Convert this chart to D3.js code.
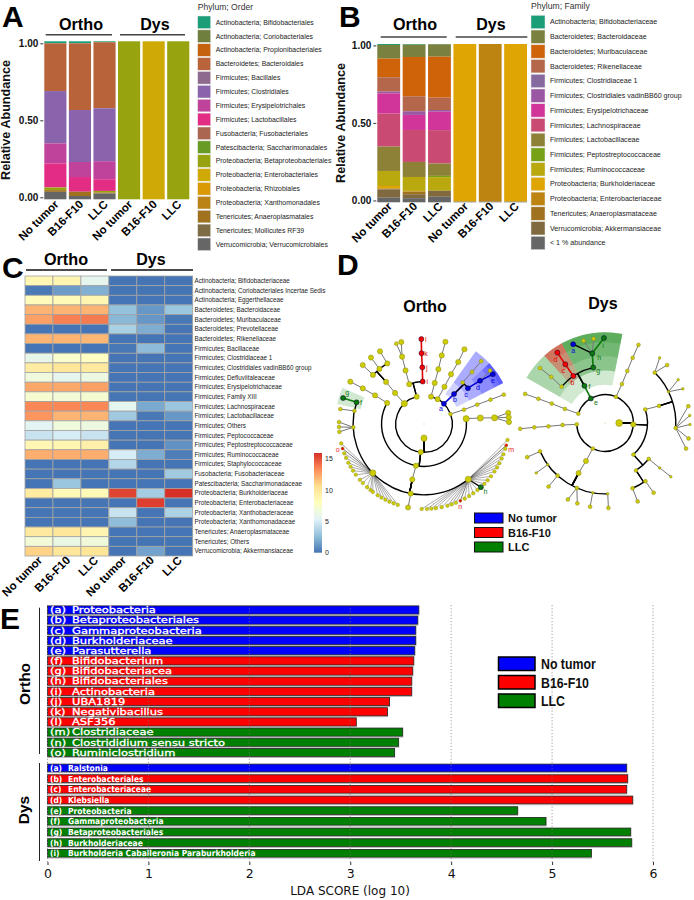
<!DOCTYPE html>
<html><head><meta charset="utf-8">
<script src="https://cdn.jsdelivr.net/npm/d3@7"></script>
<style>html,body{margin:0;padding:0;background:#fff}svg{display:block}text{font-family:"Liberation Sans",Arial,sans-serif}</style>
</head><body><div id="c"></div>
<script>
// ---------- Panel A data ----------
const groupsLabels = ["No tumor","B16-F10","LLC","No tumor","B16-F10","LLC"];
const orderNames = ["Actinobacteria; Bifidobacteriales","Actinobacteria; Coriobacteriales","Actinobacteria; Propionibacteriales","Bacteroidetes; Bacteroidales","Firmicutes; Bacillales","Firmicutes; Clostridiales","Firmicutes; Erysipelotrichales","Firmicutes; Lactobacillales","Fusobacteria; Fusobacteriales","Patescibacteria; Saccharimonadales","Proteobacteria; Betaproteobacteriales","Proteobacteria; Enterobacteriales","Proteobacteria; Rhizobiales","Proteobacteria; Xanthomonadales","Tenericutes; Anaeroplasmatales","Tenericutes; Mollicutes RF39","Verrucomicrobia; Verrucomicrobiales"];
const orderColors = ["#1b9e77","#6f7f3e","#c5620f","#b9633b","#8e6a8f","#8a63ad","#bf429b","#e32d85","#ab6652","#679b24","#97a40f","#cfaa07","#d99a06","#bb8215","#a0721f","#7e6c44","#666666"];
const orderOrthoNoTumor = [.013,0,0,.302,0,.331,.127,.152,0,0,.017,0,0,0,.011,0,.047];
const orderOrthoB16 =     [.013,0,0,.422,0,.329,.095,.093,0,0,0,0,0,0,.027,0,.021];
const orderOrthoLLC =     [.006,0,0,.418,0,.335,.114,.074,0,0,.011,0,0,0,.006,0,.036];
const orderDysNoTumor =   [0,0,0,0,0,0,0,0,0,0,1,0,0,0,0,0,0];
const orderDysB16 =       [0,0,0,0,0,0,0,0,0,0,0,1,0,0,0,0,0];
const orderDysLLC =       [0,0,0,0,0,0,0,0,0,0,1,0,0,0,0,0,0];
// ---------- Panel B data ----------
const familyNames = ["Actinobacteria; Bifidobacteriaceae","Bacteroidetes; Bacteroidaceae","Bacteroidetes; Muribaculaceae","Bacteroidetes; Rikenellaceae","Firmicutes; Clostridiaceae 1","Firmicutes; Clostridiales vadinBB60 group","Firmicutes; Erysipelotrichaceae","Firmicutes; Lachnospiraceae","Firmicutes; Lactobacillaceae","Firmicutes; Peptostreptococcaceae","Firmicutes; Ruminococcaceae","Proteobacteria; Burkholderiaceae","Proteobacteria; Enterobacteriaceae","Tenericutes; Anaeroplasmataceae","Verrucomicrobia; Akkermansiaceae","< 1 % abundance"];
const familyColors = ["#1b9e77","#7a803d","#cf630a","#b4674b","#86699f","#9b58a2","#d2359a","#c94a72","#8d8138","#77a116","#b9a90e","#dfa603","#bd8412","#a0711f","#80693e","#666666"];
const familyOrthoNoTumor = [.006,.086,.118,.091,0,.011,.128,.208,.154,0,.095,.015,.006,0,.053,.029];
const familyOrthoB16 =     [.004,.078,.248,.095,0,.023,.095,.202,.095,0,.088,.004,0,.017,.025,.026];
const familyOrthoLLC =     [.002,.078,.259,.078,0,.011,.116,.211,.078,.008,.086,0,0,0,.038,.035];
const familyDysNoTumor =   [0,0,0,0,0,0,0,0,0,0,0,.996,0,0,0,.004];
const familyDysB16 =       [0,0,0,0,0,0,0,0,0,0,0,0,.996,0,0,.004];
const familyDysLLC =       [0,0,0,0,0,0,0,0,0,0,0,.996,0,0,0,.004];
const abundanceTicks = [0,.5,1];
// ---------- Panel C data ----------
const heatRows = ["Actinobacteria; Bifidobacteriaceae","Actinobacteria; Coriobacteriales Incertae Sedis","Actinobacteria; Eggerthellaceae","Bacteroidetes; Bacteroidaceae","Bacteroidetes; Muribaculaceae","Bacteroidetes; Prevotellaceae","Bacteroidetes; Rikenellaceae","Firmicutes; Bacillaceae","Firmicutes; Clostridiaceae 1","Firmicutes; Clostridiales vadinBB60 group","Firmicutes; Defluviitaleaceae","Firmicutes; Erysipelotrichaceae","Firmicutes; Family XIII","Firmicutes; Lachnospiraceae","Firmicutes; Lactobacillaceae","Firmicutes; Others","Firmicutes; Peptococcaceae","Firmicutes; Peptostreptococcaceae","Firmicutes; Ruminococcaceae","Firmicutes; Staphylococcaceae","Fusobacteria; Fusobacteriaceae","Patescibacteria; Saccharimonadaceae","Proteobacteria; Burkholderiaceae","Proteobacteria; Enterobacteriaceae","Proteobacteria; Xanthobacteraceae","Proteobacteria; Xanthomonadaceae","Tenericutes; Anaeroplasmataceae","Tenericutes; Others","Verrucomicrobia; Akkermansiaceae"];
const heatOrthoNoTumor = [8.6,.2,8.2,12,12.6,0,12,0,6,9.6,6.6,12.4,7.2,13.4,13,5.6,4.5,8.6,12.2,0,0,0,9.6,0,0,0,9.8,6.8,11];
const heatOrthoB16 =     [8.8,1.4,8.4,12,13.6,0,12,0,7.4,10,5.8,12.4,6.8,13.4,12,6.6,5,8.7,12.2,0,0,3,8.4,0,0,0,10,6.2,10];
const heatOrthoLLC =     [5.8,2.1,8.7,12,13.8,0,11.9,0,7.9,9.8,6.4,12.6,7.1,13.4,12,6.4,4.5,9.2,12.2,0,0,0,8.4,0,0,0,8.8,6.7,10.1];
const heatDysNoTumor =   [0,0,0,2.8,2.4,3.5,0,.1,0,0,0,0,0,5.7,3.2,0,0,0,5,3.8,0,0,15.3,0,4.5,2.6,0,0,0];
const heatDysB16 =       [0,0,0,1.2,1.2,2,0,2.5,0,0,0,0,0,1.9,.1,0,0,0,2,0,0,0,3.3,15.5,0,0,0,0,1.6];
const heatDysLLC =       [0,0,0,3,.1,0,0,0,0,0,0,0,0,3,1.2,0,0,1,.3,0,3.2,0,15.9,0,3.6,0,0,0,0];
const heatStops = ["#4575B4","#91BFDB","#E0F3F8","#FFFFBF","#FEE090","#FC8D59","#D73027"];
const heatLegendTicks = [0,5,10,15];
// ---------- Panel D data: [id, parent, level, angle (deg clockwise from north), kind, letter] ----------
const orthoNodes = [
["r1",null,1,180,"l"],["p1","r1",2,186.6,"m"],["c1","p1",3,190.9,"m"],["o1","c1",4,191.9,"m"],["f1","o1",5,190.8,"m"],["g1","f1",6,190.8,"m"],
["a","r1",2,44.5,"b","a"],["b","a",3,45,"b","b"],["c","b",4,50.8,"b","c"],["d","c",5,52.3,"b","d"],["e","d",6,54.1,"b","e"],["d2","d",6,51,"s"],
["c2","b",4,43,"s"],["c3","c2",5,42.7,"s"],["c4","c3",6,42.3,"s"],
["u1","r1",2,28.7,"m"],["u2","u1",3,28.8,"m"],["u3","u2",4,28.5,"m"],["u4","u3",5,28.9,"m"],["u5","u4",6,28.4,"m"],
["v1","r1",2,14.4,"m"],["v2","v1",3,14.6,"m"],["v3","v2",4,14.7,"m"],["v4","v3",5,14.5,"m"],["v5","v4",6,14.6,"m"],
["w1","r1",2,345,"m"],["i","w1",3,358.2,"r","i"],["j","i",4,358.3,"r","j"],["k","j",5,358,"r","k"],["l","k",6,358.2,"r","l"],
["w2","w1",3,339.7,"m"],["w3","w2",4,341,"m"],["w4","w3",5,342,"m"],["w5","w4",6,341,"s"],["w6","w4",6,344.5,"m"],
["x1","r1",2,316,"l"],["x2","x1",3,317,"m"],["x3","x2",4,318,"m"],["x4","x3",5,313.9,"m"],["x5","x3",5,321,"m"],["x6","x3",5,328.8,"m"],["x7","x4",6,313.9,"m"],["x8","x5",6,321.4,"m"],["x9","x6",6,328.8,"m"],
["y1","p1",3,299.8,"m"],["y2","y1",4,300.3,"m"],["y3","y2",5,300.2,"m"],["y4","y3",6,299.9,"m"],
["z1","o1",5,280.7,"s"],["z2","z1",6,280.1,"s"],
["f","o1",5,287.8,"g","f"],["g","f",6,287.8,"g","g"],
["q1","o1",5,267.3,"s"],["q2","q1",6,271.3,"s"],["q3","q1",6,268,"s"],["q4","q1",6,264.7,"s"],
["t1","p1",3,82.8,"l"],["t2","t1",4,83.9,"l"],["t3","t2",5,85,"l"],["t4","t3",6,82.4,"m"],["t5","t3",6,85.5,"m"],["t6","t3",6,88.7,"m"],
["s1","r1",2,69.4,"s"],["s2","s1",3,70.3,"s"],["s3","s2",4,70,"s"],["s4","s3",5,69.9,"s"],["s5","s4",6,69.8,"s"],
["hubL","o1",5,226.3,"l"],["hubR","o1",5,141.3,"l"]
];
const orthoFanLeft = [256.8,249.8,246.5,242.9,239.8,236.7,233.4,229,226,222,219,217,213,210,207,204,201,198];
const orthoFanRight = [181.6,178,175,172,168,164,161,158,151.4,148,144.6,141,134.8,131.5,128,124,120.7,117.5,114,110.9,107,100.8];
const orthoMarked = [["o","hubL",253.3,"rs","o"],["n","hubR",154.7,"rs","n"],["h","hubR",138,"g","h"],["m","hubR",104.5,"rs","m"]];
const orthoRings = [[2,14.4,345],[3,82.8,299.8],[3,339.7,358.2],[4,43,50.8],[5,141.3,287.8],[5,313.9,328.8]];
const orthoSectors = [[2.6,6.3,35.5,62.6,"#0000ff"],[3.6,6.3,35.5,62.6,"#0000ff"],[4.6,6.3,47,62.6,"#0000ff"],[5.6,6.3,47,62.6,"#0000ff"],[6,6.3,47,62.6,"#0000ff"],[4.6,6.3,283,294,"#008000"]];
const dysNodes = [
["r1",null,1,90,"xl"],["p1","r1",2,92.8,"m"],
["e","r1",2,330,"g","e"],["f","e",3,331,"g","f"],["g","f",4,348,"g","g"],["h","g",5,349.6,"g","h"],["i","h",6,359.3,"g","i"],["a","h",6,338,"b","a"],["h2","h",6,345.4,"s"],["h3","h",6,352.3,"s"],
["b","f",4,326,"r","b"],["c","b",5,325.9,"r","c"],["d","c",6,325.9,"r","d"],["m1","f",4,310,"s"],["m2","m1",5,310.6,"s"],["m3","m2",6,310.2,"s"],
["u1","r1",2,22.7,"s"],["u2","u1",3,23.5,"s"],["u3","u2",4,23.2,"s"],["u4","u3",5,23,"s"],["u5","u4",6,23.2,"s"],
["v1","r1",2,289.3,"s"],["v2","v1",3,289.4,"s"],["v3","v2",4,290,"s"],["v4","v3",5,290,"s"],["v5","v4",6,290,"s"],
["w1","r1",2,267.3,"s"],["w2","w1",3,267.3,"s"],["w3","w2",4,266.6,"s"],["w4","w3",5,266.5,"s"],["w5","w4",6,266.1,"s"],
["b1","r1",2,205.6,"s"],["b2","b1",3,206.6,"m"],["b3","b2",4,207.8,"m"],["b4","b3",5,203.4,"s"],["b5","b3",5,246.4,"s"],["b6","b3",5,234,"xs"],["b7","b3",5,222,"s"],["b8","b3",5,190,"xs"],["b9","b3",5,177.8,"xs"],
["b10","b5",6,246.3,"s"],["b11","b6",6,234,"xs"],["b12","b7",6,221.6,"s"],["b13","b4",6,205.9,"s"],["b14","b4",6,199,"s"],["b15","b8",6,190.1,"s"],["b16","b9",6,177.7,"s"],
["t1","p1",3,71.4,"s"],["t2","t1",4,72.5,"s"],["t3","t2",5,44.6,"s"],["t4","t2",5,63.8,"xs"],["t5","t2",5,94,"s"],
["t6","t3",6,40,"xs"],["t7","t3",6,47,"s"],["t8","t4",6,59.4,"xs"],["t9","t4",6,66.3,"xs"],
["l1","t5",6,78.6,"s"],["l2","t5",6,85,"xs"],["l3","t5",6,91,"xs"],["l4","t5",6,100.5,"s"],["l5","t5",6,107.5,"s"],
["n1","p1",3,138,"s"],["n2","n1",4,146.8,"s"],["n3","n1",4,129.4,"s"],["n4","n3",5,129.4,"xs"],["n5","n4",6,129.2,"xs"],["n6","n2",5,145.2,"s"],["n7","n2",5,157.1,"s"],["n8","n6",6,145.1,"s"],["n9","n7",6,157.4,"s"]
];
const dysRings = [[2,289.3,627.3],[3,71.4,138],[4,310,348],[4,129.4,146.8],[5,145.2,157.1],[5,44.6,94],[5,177.8,246.4]];
const dysSectors = [[2.7,6.4,300,371,"#008000"],[3.7,6.4,300,371,"#008000"],[3.7,6.4,318,331.5,"#ff0000"],[4.7,6.4,318,331.5,"#ff0000"],[5.7,6.4,318,331.5,"#ff0000"],[3.7,6.4,331.5,371,"#008000"],[4.7,6.4,331.5,371,"#008000"],[5.7,6.4,331.5,371,"#008000"]];
const tumorNames = ["No tumor","B16-F10","LLC"];
const tumorColors = ["#0000ff","#ff0000","#008000"];
// ---------- Panel E data ----------
const ldaOrthoPrefix = ["(a)","(b)","(c)","(d)","(e)","(f)","(g)","(h)","(i)","(j)","(k)","(l)","(m)","(n)","(o)"];
const ldaOrthoNames = ["Proteobacteria","Betaproteobacteriales","Gammaproteobacteria","Burkholderiaceae","Parasutterella","Bifidobacterium","Bifidobacteriacea","Bifidobacteriales","Actinobacteria","UBA1819","Negativibacillus","ASF356","Clostridiaceae","Clostrididium sensu stricto","Ruminiclostridium"];
const ldaOrthoScores = [3.68,3.67,3.65,3.65,3.64,3.63,3.62,3.61,3.61,3.39,3.37,3.06,3.52,3.48,3.44];
const ldaOrthoGroup = [0,0,0,0,0,1,1,1,1,1,1,1,2,2,2];
const ldaDysPrefix = ["(a)","(b)","(c)","(d)","(e)","(f)","(g)","(h)","(i)"];
const ldaDysNames = ["Ralstonia","Enterobacteriales","Enterobacteriaceae","Klebsiella","Proteobacteria","Gammaproteobacteria","Betaproteobacteriales","Burkholderiaceae","Burkholderia Caballeronia Paraburkholderia"];
const ldaDysScores = [5.74,5.75,5.74,5.80,4.66,4.94,5.78,5.79,5.39];
const ldaDysGroup = [0,1,1,1,2,2,2,2,2];
const ldaTicks = [0,1,2,3,4,5,6];

const svg = d3.select("#c").append("svg").attr("width",694).attr("height",900).attr("viewBox","0 0 694 900");
const bold = "bold";
function txt(g,x,y,s,size,opt={}){
  const t=g.append("text").attr("x",x).attr("y",y).text(s).attr("font-size",size)
    .attr("font-weight",opt.w||"normal").attr("fill",opt.c||"#000").attr("text-anchor",opt.a||"start");
  if(opt.f) t.style("font-family",opt.f);
  if(opt.t) t.attr("transform",opt.t);
  return t;
}
// panel letters
[["A",2,27],["B",339,27],["C",2,278],["D",337,275],["E",0,629]].forEach(d=>txt(svg,d[1],d[2],d[0],30,{w:bold}));

function heading(g,o,y,line){ // line: [y,x0,x1,x2,x3], o: [xOrtho,xDys]
  txt(g,o[0],y,"Ortho",16.2,{w:bold,a:"middle"});
  txt(g,o[1],y,"Dys",16,{w:bold,a:"middle"});
  g.append("line").attr("x1",line[1]).attr("x2",line[2]).attr("y1",line[0]).attr("y2",line[0]).attr("stroke",line[5]||"#444").attr("stroke-width",1.4);
  g.append("line").attr("x1",line[3]).attr("x2",line[4]).attr("y1",line[0]).attr("y2",line[0]).attr("stroke",line[5]||"#444").attr("stroke-width",1.4);
}
function stackedPanel(cfg){
  const g=svg.append("g");
  const rows=cfg.columns.map(col=>Object.fromEntries(cfg.names.map((n,i)=>[n,col[i]])));
  const series=d3.stack().keys(cfg.names).order(d3.stackOrderReverse)(rows);
  const y=d3.scaleLinear().domain([cfg.base,cfg.top]).range(cfg.yr);
  const x=d3.scaleBand().domain(d3.range(6)).range(cfg.xr).paddingInner(.1).paddingOuter(.0);
  const off=v=>y(cfg.base+v*(cfg.top-cfg.base));
  series.forEach(s=>{
    g.selectAll(null).data(s).join("rect").attr("x",(d,j)=>x(j)).attr("width",x.bandwidth())
      .attr("y",d=>off(d[1])).attr("height",d=>off(d[0])-off(d[1])).attr("fill",cfg.colors[cfg.names.indexOf(s.key)]);
  });
  // axis
  const ax=g.append("g").attr("transform",`translate(${cfg.xr[0]-1},0)`).call(d3.axisLeft(y).tickValues(abundanceTicks).tickFormat(d3.format(".2f")).tickSize(3).tickPadding(2));
  ax.select(".domain").remove();
  ax.selectAll("text").attr("font-size",10).attr("font-weight",bold).attr("fill","#111").style("font-family",'"Liberation Sans"');
  ax.selectAll("line").attr("stroke","#333");
  txt(g,0,0,"Relative Abundance",12.6,{w:bold,a:"middle",c:"#111",t:`translate(${cfg.ylab[0]},${cfg.ylab[1]}) rotate(-90)`});
  groupsLabels.forEach((t,i)=>txt(g,0,0,t,11.5,{w:bold,a:"end",t:`translate(${x(i)+x.bandwidth()/2+cfg.rot[0]},${cfg.rot[1]}) rotate(-45)`}));
  heading(g,cfg.head,cfg.headY,cfg.line);
  // legend
  txt(g,cfg.leg.x,cfg.leg.ty,cfg.leg.title,8.6,{c:"#333"});
  const ly=d3.scaleLinear().domain([0,cfg.names.length-1]).range(cfg.leg.yr);
  cfg.names.forEach((n,i)=>{
    g.append("rect").attr("x",cfg.leg.x).attr("y",ly(i)-cfg.leg.h/2).attr("width",cfg.leg.w).attr("height",cfg.leg.h).attr("fill",cfg.colors[i]).attr("stroke","#e8e8e8").attr("stroke-width",.5);
    txt(g,cfg.leg.tx,ly(i)+2.4,n,cfg.leg.fs,{c:"#222"});
  });
}
stackedPanel({names:orderNames,colors:orderColors,columns:[orderOrthoNoTumor,orderOrthoB16,orderOrthoLLC,orderDysNoTumor,orderDysB16,orderDysLLC],
  base:-.013,top:1.013,yr:[199.3,41.3],xr:[44.3,189.3],ylab:[9.5,120],rot:[4,205],head:[81,155],headY:30,line:[34.7,45.7,112,120,185],
  leg:{title:"Phylum; Order",x:197.7,ty:10,tx:215.7,fs:6.9,yr:[22.3,244.3],w:13,h:12.6}});
stackedPanel({names:familyNames,colors:familyColors,columns:[familyOrthoNoTumor,familyOrthoB16,familyOrthoLLC,familyDysNoTumor,familyDysB16,familyDysLLC],
  base:-.012,top:1.009,yr:[202.3,44],xr:[377.3,527],ylab:[345,123],rot:[4,207],head:[415,491],headY:29.5,line:[37,380.7,446.7,455.7,527.3],
  leg:{title:"Phylum; Family",x:531,ty:8.5,tx:550,fs:7.1,yr:[22,243],w:14,h:13.4}});

// ---------- Panel C ----------
(function(){
  const g=svg.append("g");
  const cols=[heatOrthoNoTumor,heatOrthoB16,heatOrthoLLC,heatDysNoTumor,heatDysB16,heatDysLLC];
  const x=d3.scaleBand().domain(d3.range(6)).range([25,192.7]);
  const y=d3.scaleBand().domain(heatRows).range([276,556]);
  const maxV=15.9;
  const color=d3.scaleLinear().domain(heatStops.map((c,i)=>i*maxV/(heatStops.length-1))).range(heatStops);
  cols.forEach((col,j)=>g.selectAll(null).data(col).join("rect").attr("x",x(j)).attr("y",(d,i)=>y(heatRows[i])).attr("width",x.bandwidth()).attr("height",y.bandwidth())
     .attr("fill",d=>color(d)).attr("stroke","#a3a3a3").attr("stroke-width",.8));
  heatRows.forEach(r=>txt(g,194.5,y(r)+y.bandwidth()/2+2.2,r,6.3,{c:"#222"}));
  groupsLabels.forEach((t,i)=>txt(g,0,0,t,11.5,{w:bold,a:"end",t:`translate(${x(i)+x.bandwidth()/2+4},561) rotate(-45)`}));
  heading(g,[66,151],265,[270,26,107,111,193,"#111"]);
  // colour key
  const ky=d3.scaleLinear().domain([0,maxV]).range([552.7,453]);
  const defs=svg.append("defs"), lg=defs.append("linearGradient").attr("id","hk").attr("x1",0).attr("x2",0).attr("y1",1).attr("y2",0);
  heatStops.forEach((c,i)=>lg.append("stop").attr("offset",i/(heatStops.length-1)).attr("stop-color",c));
  g.append("rect").attr("x",314).attr("y",453).attr("width",8).attr("height",99.7).attr("fill","url(#hk)");
  const ka=g.append("g").attr("transform","translate(322,0)").call(d3.axisRight(ky).tickValues(heatLegendTicks).tickSize(0).tickPadding(3));
  ka.select(".domain").remove(); ka.selectAll("text").attr("font-size",7).attr("fill","#222").style("font-family",'"Liberation Sans"');
})();

// ---------- Panel D ----------
const kindFill={xl:"#cccc00",l:"#cccc00",m:"#cccc00",s:"#cccc00",xs:"#cccc00",b:"#0000dd",r:"#ff0000",g:"#0a7a0a",rs:"#ee0000"};
const kindR={xl:3.4,l:3.1,m:2.6,s:1.9,xs:1.3,b:2.5,r:2.5,g:2.5,rs:1.5};
const labelNudge={ortho:{a:[-3,5],b:[1,6],c:[-2,6],d:[-2,7],e:[0,6],f:[4.5,0],g:[4,-5],i:[4.5,0],j:[4.5,0],k:[4.5,0],l:[4.5,0],h:[4.5,4],m:[5,4],n:[0,5.5],o:[-5,1]},
  dys:{a:[0,6],b:[-1,7],c:[-2,6],d:[-2,7],e:[5,4],f:[5,1],g:[5,3],h:[7,4],i:[-1,8]}};
function clade(cfg){
  const g=svg.append("g").attr("transform",`translate(${cfg.cx},${cfg.cy})`);
  const r=d3.scaleLinear().domain([1,6]).range([14.13,85]);
  const rad=d3.scaleLinear().domain([0,360]).range([0,2*Math.PI]);
  const pt=(lvl,ang)=>d3.pointRadial(rad(ang),r(lvl));
  const byId=new Map(cfg.nodes.map(n=>[n[0],n]));
  cfg.sectors.forEach(s=>g.append("path").attr("d",d3.arc()({innerRadius:r(s[0]),outerRadius:r(s[1]),startAngle:rad(s[2]),endAngle:rad(s[3])})).attr("fill",s[4]).attr("opacity",.18));
  const onRing=(lvl,ang)=>cfg.rings.some(q=>q[0]===lvl&&((ang>=q[1]&&ang<=q[2])||(ang+360>=q[1]&&ang+360<=q[2])));
  const coloured=k=>["b","r","g"].includes(k);
  const linkCol={b:"#0000dd",r:"#e00000",g:"#0a7a0a"};
  const links=g.append("g"),arcs=g.append("g"),dots=g.append("g"),labs=g.append("g");
  cfg.nodes.forEach(n=>{
    if(!n[1])return;
    const p=byId.get(n[1]);
    const a=pt(p[2],p[3]);
    const ring=onRing(n[2],n[3])&&onRing(n[2],p[3]);
    const b=ring?pt(n[2],p[3]):pt(n[2],n[3]);
    let col="#777",w=1;
    if(coloured(n[4])){ if(coloured(p[4])&&p[4]===n[4]){col=linkCol[n[4]];w=1.6;} else {col="#000";w=1.3;} }
    else if(ring){col="#000";w=1.3;}
    links.append("line").attr("x1",a[0]).attr("y1",a[1]).attr("x2",b[0]).attr("y2",b[1]).attr("stroke",col).attr("stroke-width",w);
  });
  (cfg.fans||[]).forEach(f=>{
    const p=byId.get(f[0]),a=pt(p[2],p[3]);
    f[1].forEach(ang=>{
      const b=pt(6,ang);
      links.append("line").attr("x1",a[0]).attr("y1",a[1]).attr("x2",b[0]).attr("y2",b[1]).attr("stroke","#444").attr("stroke-width",.45);
      dots.append("circle").attr("cx",b[0]).attr("cy",b[1]).attr("r",1.8).attr("fill",kindFill.s).attr("stroke","#8a8820").attr("stroke-width",.4);
    });
  });
  cfg.rings.forEach(q=>arcs.append("path").attr("d",d3.arc()({innerRadius:r(q[0]),outerRadius:r(q[0]),startAngle:rad(q[1]),endAngle:rad(q[2])})).attr("fill","none").attr("stroke","#000").attr("stroke-width",1.4));
  cfg.nodes.forEach(n=>{
    const c=pt(n[2],n[3]);
    dots.append("circle").attr("cx",c[0]).attr("cy",c[1]).attr("r",kindR[n[4]]).attr("fill",kindFill[n[4]]).attr("stroke",coloured(n[4])?"#003":"#8a8820").attr("stroke-width",.5);
    if(n[5]){
      const o=cfg.nudge[n[5]]||[0,5];
      labs.append("text").attr("x",c[0]+o[0]).attr("y",c[1]+o[1]).attr("dy",".35em").attr("text-anchor","middle").attr("font-size",7).attr("fill",linkCol[n[4]]||"#ee2222").text(n[5]);
    }
  });
  g.append("circle").attr("r",.7).attr("fill","#ddd8a0");
}
const orthoAll=orthoNodes.concat(orthoMarked.map(m=>[m[0],m[1],6,m[2],m[3],m[4]]));
clade({cx:424,cy:424,nodes:orthoAll,rings:orthoRings,sectors:orthoSectors,nudge:labelNudge.ortho,fans:[["hubL",orthoFanLeft],["hubR",orthoFanRight]]});
clade({cx:605,cy:423,nodes:dysNodes,rings:dysRings,sectors:dysSectors,nudge:labelNudge.dys});
txt(svg,425,312,"Ortho",16,{w:bold,a:"middle"});
txt(svg,603,309,"Dys",16,{w:bold,a:"middle"});
tumorNames.forEach((t,i)=>{
  const y=d3.scaleLinear().domain([0,2]).range([513,542])(i);
  svg.append("rect").attr("x",474.5).attr("y",y).attr("width",28.5).attr("height",10).attr("fill",tumorColors[i]).attr("stroke","#111").attr("stroke-width",1);
  txt(svg,508,y+9,t,11,{w:bold,c:"#111"});
});

// ---------- Panel E ----------
(function(){
  const g=svg.append("g");
  const x=d3.scaleLinear().domain([0,6]).range([47.5,653]);
  const dv='"DejaVu Sans"';
  function bars(names,prefix,scores,groups,yr,h,fs,sx,nameX,weight,sw){
    const y=d3.scaleLinear().domain([0,names.length-1]).range(yr);
    names.forEach((n,i)=>{
      g.append("rect").attr("x",x(0)).attr("y",y(i)-h/2).attr("width",x(scores[i])-x(0)).attr("height",h).attr("fill",tumorColors[groups[i]]).attr("stroke","#222").attr("stroke-width",.8);
      g.append("line").attr("x1",x(0)).attr("x2",x(scores[i])+.5).attr("y1",y(i)+h/2+.8).attr("y2",y(i)+h/2+.8).attr("stroke","#999").attr("stroke-width",.8);
      [[prefix[i],x(0)+2.5],[n,nameX]].forEach(p=>txt(g,0,0,p[0],fs,{c:"#fff",f:dv,w:weight,t:`translate(${p[1]},${y(i)+fs*.37}) scale(${sx},1)`}).attr("stroke","#fff").attr("stroke-width",sw));
    });
  }
  bars(ldaOrthoNames,ldaOrthoPrefix,ldaOrthoScores,ldaOrthoGroup,[610,752.5],8.2,8.7,1.32,72,"normal",.3);
  bars(ldaDysNames,ldaDysPrefix,ldaDysScores,ldaDysGroup,[768,853.3],7.8,8.4,.9,68,"bold",0);
  const axis=g.append("g").attr("transform","translate(0,862)").call(d3.axisBottom(x).tickValues(ldaTicks).tickFormat(d3.format("d")).tickSize(3).tickPadding(4));
  axis.select(".domain").remove();
  axis.selectAll("line").attr("stroke","#333");
  axis.selectAll("text").attr("font-size",12.5).attr("fill","#111").style("font-family",dv);
  txt(g,0,0,"LDA SCORE (log 10)",12,{c:"#111",a:"middle",f:dv,t:"translate(350,895)"});
  ldaTicks.forEach(t=>g.append("line").attr("x1",x(t)).attr("x2",x(t)).attr("y1",605).attr("y2",862).attr("stroke","#777").attr("stroke-width",.7).attr("stroke-dasharray","1.2 2"));
  [[607.7,754],[763,861]].forEach(s=>g.append("line").attr("x1",39.5).attr("x2",39.5).attr("y1",s[0]).attr("y2",s[1]).attr("stroke","#222").attr("stroke-width",1));
  txt(g,0,0,"Ortho",15.5,{w:bold,a:"middle",t:"translate(30,684) rotate(-90)"});
  txt(g,0,0,"Dys",15.5,{w:bold,a:"middle",t:"translate(29,810) rotate(-90)"});
  const ly=d3.scaleLinear().domain([0,2]).range([657,694]);
  tumorNames.forEach((t,i)=>{
    g.append("rect").attr("x",498.5).attr("y",ly(i)).attr("width",36.5).attr("height",13.5).attr("fill",tumorColors[i]).attr("stroke","#000").attr("stroke-width",1.5);
    txt(g,0,0,t,14.5,{w:bold,c:"#111",f:'"Liberation Sans"',t:`translate(541,${ly(i)+12}) scale(.85,1)`});
  });
})();
</script></body></html>
